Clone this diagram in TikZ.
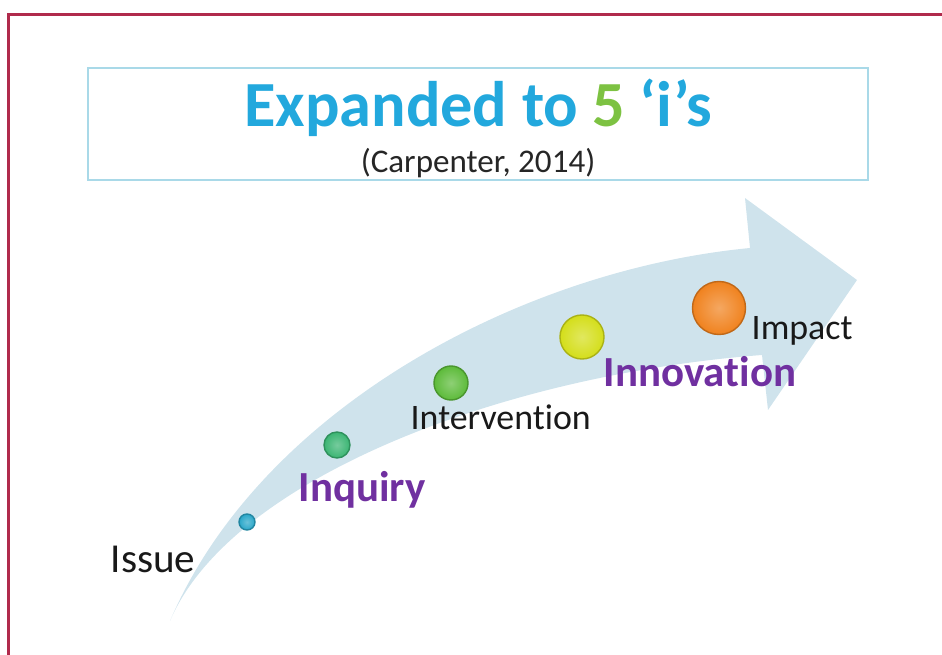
\documentclass[tikz,border=0pt]{standalone}
\usepackage{fontspec}
\setmainfont{Carlito}[Ligatures=NoCommon]
\usetikzlibrary{positioning,calc}
\definecolor{FiveRed}{HTML}{B02A4C}
\definecolor{FiveBox}{HTML}{A9D9E8}
\definecolor{FiveTitle}{HTML}{22A8DD}
\definecolor{FiveGreen}{HTML}{7DC242}
\definecolor{FivePurple}{HTML}{7030A0}
\definecolor{FiveArrow}{HTML}{CFE3EC}
\definecolor{FiveIssue}{HTML}{2AA7C9}
\definecolor{FiveInquiry}{HTML}{3BB573}
\definecolor{FiveInterv}{HTML}{5DBB3A}
\definecolor{FiveInnov}{HTML}{D4DE1A}
\definecolor{FiveImpact}{HTML}{F0821E}

\begin{document}
\begin{tikzpicture}[
  x=0.01cm, y=-0.01cm,
  dot/.style={circle, inner sep=0pt, draw=#1!80!black, inner color=#1!70!white, outer color=#1},
  lbl/.style={anchor=base west, inner sep=0pt, text=black!90, font=\fontsize{10.2}{12}\selectfont},
  keyword/.style={anchor=base west, inner sep=0pt, text=FivePurple, font=\fontsize{12.2}{14}\selectfont\bfseries}
]
\useasboundingbox (0,0) rectangle (942,655);

% frame
\draw[FiveRed, line width=0.85pt] (8.5,655) -- (8.5,14.5) -- (942,14.5);

% heading
\node[draw=FiveBox, line width=0.6pt, minimum width=7.8cm, minimum height=1.12cm] (titlebox) at (478,124) {};
\node[anchor=base, inner sep=0pt, text=FiveTitle, font=\fontsize{18.3}{22}\selectfont\bfseries] (title) at (478,127) {Expanded to \textcolor{FiveGreen}{5} ‘i’s};
\node[anchor=base, inner sep=0pt, text=black!85, font=\fontsize{9.4}{11}\selectfont] (cite) at (478,173) {(Carpenter, 2014)};

% curved arrow
\coordinate (tail) at (170,621);
\coordinate (lowneck) at (762,355);
\coordinate (upneck) at (750,248);
\fill[FiveArrow] (tail) .. controls (230,480) and (500,375) .. (lowneck)
  -- (768,410) -- (857,280) -- (745,198) -- (upneck)
  .. controls (520,270) and (260,410) .. (tail) -- cycle;

% the five i's
\node[dot=FiveIssue, minimum size=0.16cm] (issue) at (247,522) {};
\node[dot=FiveInquiry, minimum size=0.26cm] (inquiry) at (337,445) {};
\node[dot=FiveInterv, minimum size=0.34cm] (interv) at (451,383) {};
\node[dot=FiveInnov, minimum size=0.44cm] (innov) at (582,337) {};
\node[dot=FiveImpact, minimum size=0.53cm] (impact) at (719,308) {};

\node[lbl, font=\fontsize{11.7}{14}\selectfont] (issuetxt) at (110,573) {Issue};
\node[keyword] (inquirytxt) at (298,502) {Inquiry};
\node[lbl] (intervtxt) at (410,430) {Intervention};
\node[keyword] (innovtxt) at (603,387) {Innovation};
\node[lbl] (impacttxt) at (751,340) {Impact};
\end{tikzpicture}
\end{document}
